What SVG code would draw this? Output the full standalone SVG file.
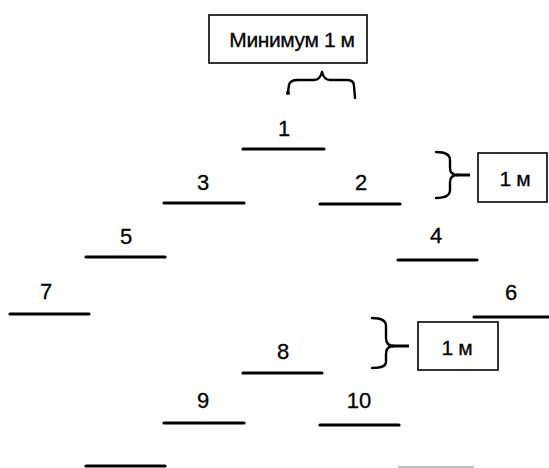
<svg xmlns="http://www.w3.org/2000/svg" width="549" height="468" viewBox="0 0 549 468">
<style>
  .lbl { font-family: "Liberation Sans", Arial, sans-serif; font-size: 22px; fill: #000; stroke: #000; stroke-width: 0.3; text-anchor: middle; }
  .bt { letter-spacing: -0.4px; font-size: 21px; }
  .bx { fill: #fff; stroke: #000; stroke-width: 1.6; }
  .ln { stroke: #000; stroke-width: 3.2; stroke-linecap: round; }
  .br { fill: none; stroke: #000; stroke-width: 2.4; stroke-linecap: round; stroke-linejoin: round; }
</style>
<rect width="549" height="468" fill="#fff"/>
<g id="note-top">
  <rect class="bx" x="209" y="15" width="158" height="48"/>
  <text class="lbl bt" x="292" y="47">Минимум 1 м</text>
</g>
<g id="note-right">
  <rect class="bx" x="478" y="153" width="69" height="49"/>
  <text class="lbl bt" x="515" y="186">1 м</text>
</g>
<g id="note-mid">
  <rect class="bx" x="418" y="322" width="80" height="48"/>
  <text class="lbl bt" x="457" y="355">1 м</text>
</g>
<g id="n1"><line class="ln" x1="243" y1="149" x2="324" y2="149"/><text class="lbl" x="284" y="136">1</text></g>
<g id="n2"><line class="ln" x1="320" y1="204" x2="400" y2="204"/><text class="lbl" x="361" y="190">2</text></g>
<g id="n3"><line class="ln" x1="164" y1="203" x2="244" y2="203"/><text class="lbl" x="203" y="190">3</text></g>
<g id="n4"><line class="ln" x1="398" y1="260" x2="477" y2="260"/><text class="lbl" x="436" y="243">4</text></g>
<g id="n5"><line class="ln" x1="86" y1="257" x2="165" y2="257"/><text class="lbl" x="126" y="244">5</text></g>
<g id="n6"><line class="ln" x1="474" y1="317" x2="552" y2="317"/><text class="lbl" x="511" y="300">6</text></g>
<g id="n7"><line class="ln" x1="10" y1="314" x2="89" y2="314"/><text class="lbl" x="46" y="299">7</text></g>
<g id="n8"><line class="ln" x1="243" y1="373" x2="322" y2="373"/><text class="lbl" x="283" y="359">8</text></g>
<g id="n9"><line class="ln" x1="164" y1="423" x2="244" y2="423"/><text class="lbl" x="203" y="408">9</text></g>
<g id="n10"><line class="ln" x1="320" y1="425" x2="399" y2="425"/><text class="lbl" x="359" y="408">10</text></g>
<g id="n11"><line class="ln" x1="86" y1="466" x2="165" y2="466"/></g>
<g id="n12"><line x1="398" y1="467" x2="474" y2="467" stroke="#aaa" stroke-width="1.5"/></g>
<g id="connectors">
  <path class="br" d="M288,92 L289,85 Q290,80 298,80 L314,80 Q320,80 322,72 Q324,80 330,80 L347,80 Q354,80 354,86 L355,98"/>
  <circle cx="288" cy="93" r="2" fill="#000"/>
  <path class="br" d="M436,152 Q450,152 450,160 L450,168 Q450,175 458,175 Q450,175 450,182 L450,190 Q450,198 436,198"/>
  <line x1="456" y1="175" x2="470" y2="175" stroke="#000" stroke-width="3"/>
  <path class="br" d="M372,318 Q386,318 386,326 L386,338 Q386,346 394,346 Q386,346 386,354 L386,362 Q386,368 372,368"/>
  <line x1="392" y1="346" x2="409" y2="346" stroke="#000" stroke-width="3"/>
</g>
</svg>
